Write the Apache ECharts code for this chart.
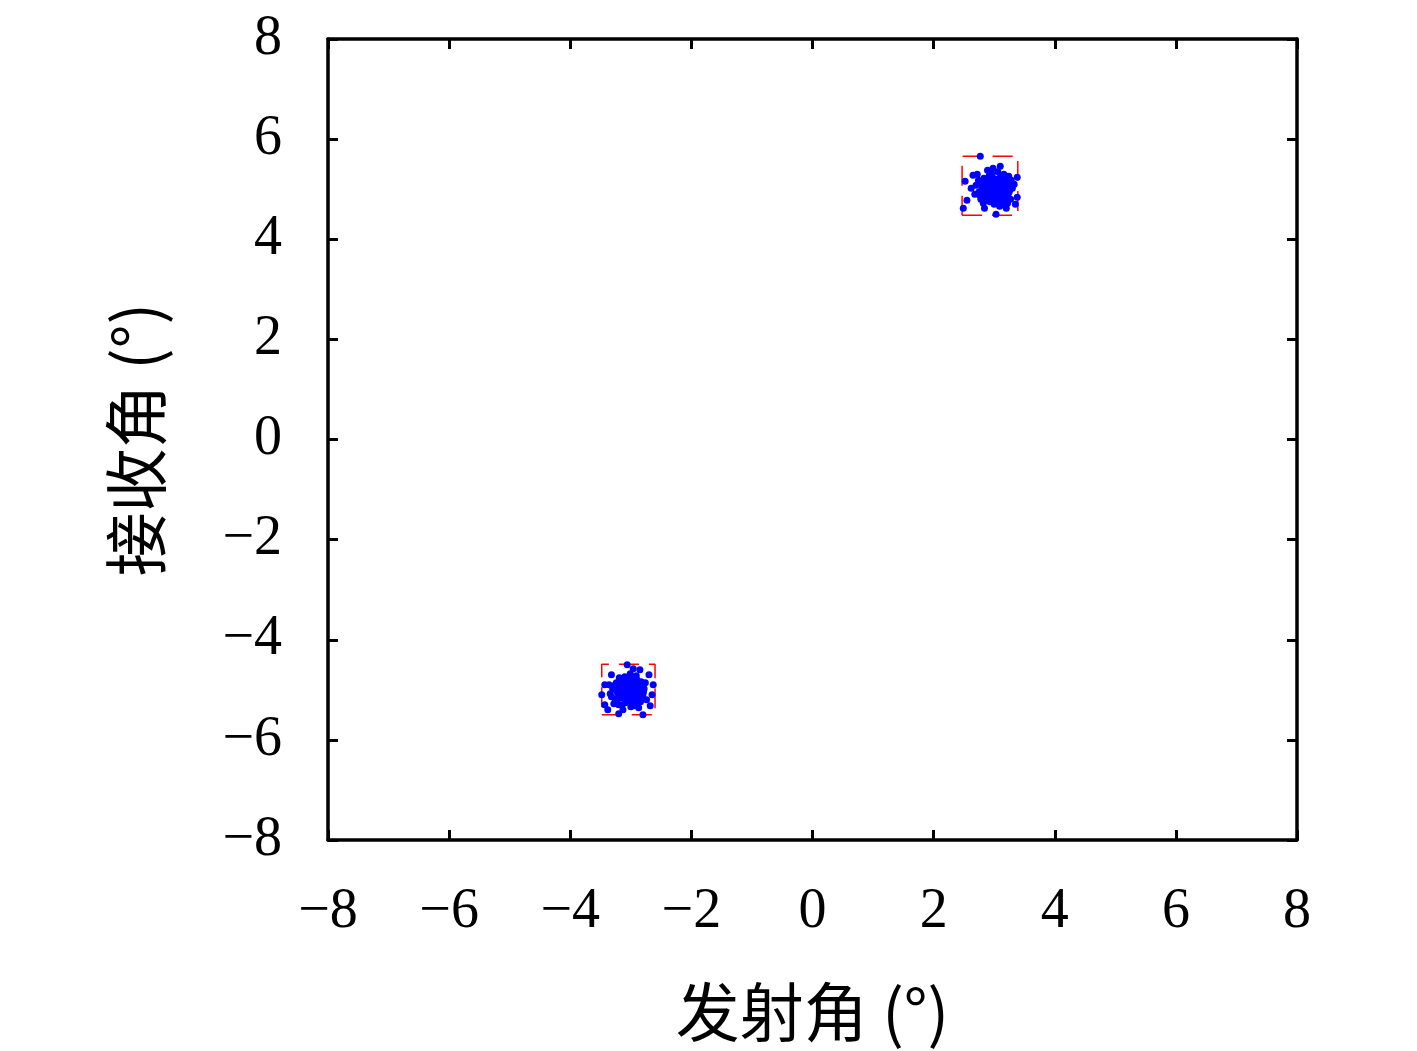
<!DOCTYPE html>
<html>
<head>
<meta charset="utf-8">
<script src="https://cdn.jsdelivr.net/npm/echarts@6/dist/echarts.min.js"></script>
<style>
html, body { margin: 0; padding: 0; background: #fff; }
#chart { width: 1417px; height: 1051px; }
</style>
</head>
<body>
<div id="chart"></div>
<script>
// 估计目标（发射角, 接收角）
var upperCluster = [
  [2.98,5.00],[3.05,5.08],[2.90,4.95],[3.10,4.92],[2.85,5.10],[3.02,5.20],[2.95,4.82],[3.15,5.05],
  [2.80,5.00],[3.08,4.78],[2.92,5.15],[3.20,5.12],[2.88,4.88],[3.00,4.70],[3.12,5.25],[2.75,4.95],
  [3.25,4.95],[2.96,5.30],[3.04,4.90],[2.83,5.22],[3.18,4.85],[2.70,5.08],[3.28,5.18],[2.93,4.75],
  [3.06,5.35],[2.78,4.80],[3.22,4.72],[2.99,5.12],[3.01,4.86],[2.87,5.03],[3.13,4.98],[2.94,5.06],
  [3.07,5.02],[2.91,4.91],[3.03,4.96],[2.97,5.24],[3.16,5.30],[2.82,4.72],[3.30,5.02],[2.68,4.90],
  [3.09,4.66],[2.89,5.38],[3.24,5.26],[2.74,5.18],[3.19,4.78],[2.86,4.84],[3.11,5.14],[2.95,4.98],
  [3.00,5.05],[3.05,4.85],[2.72,5.30],[3.27,4.80],[2.84,4.62],[3.14,4.70],[2.90,5.20],[3.17,5.20],
  [2.93,5.10],[3.04,5.14],[2.87,4.98],[3.09,5.09],[3.14,4.88],[2.81,5.06],[3.21,5.02],[2.97,4.90],
  [3.02,4.80],[2.89,4.78],[3.12,4.80],[2.99,5.18],[3.08,5.22],[2.78,5.12],[3.23,4.90],[2.92,5.28],
  [2.96,4.94],[3.06,4.98],[3.01,5.02],[2.84,4.92],[3.17,4.94],[3.11,5.04],[2.91,5.04],[3.00,4.92],
  [2.76,4.88],[3.26,5.08],[3.04,4.74],[2.94,5.34],[3.18,5.16],[2.85,5.16],[3.13,5.18],[2.80,4.86],
  [2.77,5.66],[2.52,5.16],[2.55,4.78],[2.49,4.62],[3.03,4.50],[3.20,4.62],[3.38,4.84],[3.38,5.24],
  [3.10,5.46],[2.98,5.42],[3.33,5.10],[2.62,5.02],[2.65,5.28],[3.35,4.70]
];
var lowerCluster = [
  [-3.05,-5.04],[-2.98,-4.96],[-3.12,-5.10],[-2.92,-5.12],[-3.18,-4.94],[-3.02,-4.86],[-3.08,-5.22],
  [-2.88,-5.02],[-3.22,-5.06],[-2.95,-5.28],[-3.14,-4.84],[-2.85,-4.92],[-3.26,-5.18],[-3.00,-5.34],
  [-2.90,-4.80],[-3.30,-4.98],[-2.80,-5.10],[-3.10,-4.74],[-2.96,-5.16],[-3.20,-5.30],[-2.84,-5.24],
  [-3.34,-5.08],[-2.78,-4.98],[-3.06,-4.92],[-3.16,-5.02],[-2.93,-5.06],[-3.04,-5.14],[-2.99,-4.88],
  [-3.11,-4.98],[-3.24,-4.86],[-2.87,-5.36],[-3.28,-5.28],[-2.76,-4.86],[-3.01,-4.68],[-3.13,-5.40],
  [-2.82,-5.18],[-3.36,-4.90],[-2.74,-5.20],[-3.19,-4.76],[-2.91,-4.72],[-3.07,-5.04],[-2.97,-5.02],
  [-3.09,-5.26],[-2.89,-5.14],[-3.21,-4.92],[-3.03,-4.98],[-2.94,-4.90],[-3.15,-5.16],
  [-3.08,-4.96],[-2.95,-5.08],[-3.17,-5.08],[-2.86,-5.08],[-3.25,-5.00],[-3.01,-5.20],[-3.12,-4.90],
  [-2.90,-4.96],[-3.04,-4.80],[-2.99,-5.24],[-3.22,-5.20],[-2.83,-4.84],[-3.14,-5.30],[-2.94,-5.32],
  [-3.29,-4.92],[-2.79,-5.04],[-3.06,-5.12],[-3.10,-5.02],[-2.92,-4.84],[-3.18,-4.82],[-2.88,-5.22],
  [-3.02,-5.06],[-3.32,-5.14],[-2.81,-4.94],[-3.09,-4.86],[-2.97,-4.76],
  [-3.06,-4.50],[-2.85,-4.60],[-2.70,-4.70],[-3.43,-4.90],[-3.48,-5.10],[-2.63,-4.90],
  [-3.43,-5.30],[-3.20,-5.48],[-2.80,-5.50],[-2.65,-5.10],[-2.96,-4.58],[-3.32,-4.70],
  [-2.68,-5.32],[-3.38,-5.40]
];
// 红色框: [xmin, xmax, ymin, ymax]
var upperBox = [2.47, 3.39, 4.48, 5.66];
var lowerBox = [-3.48, -2.60, -5.50, -4.49];

function boxPath(b) {
  return [[b[0], b[2]], [b[1], b[2]], [b[1], b[3]], [b[0], b[3]], [b[0], b[2]]];
}
function fmt(v) {
  return v < 0 ? '\u2212' + Math.abs(v) : String(v);
}

var myChart = echarts.init(document.getElementById('chart'));
var labelFont = 'Liberation Serif, DejaVu Serif, serif';
var cjkFont = 'Noto Sans CJK SC, serif';

function baseAxis(extra) {
  var a = {
    type: 'value',
    min: -8,
    max: 8,
    interval: 2,
    splitLine: { show: false },
    axisLine: { show: true, onZero: false, lineStyle: { color: '#000', width: 3.5 } },
    axisTick: { show: true, inside: true, length: 10, lineStyle: { color: '#000', width: 3 } }
  };
  for (var k in extra) a[k] = extra[k];
  return a;
}

var option = {
  backgroundColor: '#fff',
  animation: false,
  grid: { left: 328, top: 39, right: 120, bottom: 211, containLabel: false },
  xAxis: [
    baseAxis({
      position: 'bottom',
      name: '发射角 (°)',
      nameLocation: 'middle',
      nameGap: 140,
      nameTextStyle: { fontSize: 64, fontFamily: cjkFont, color: '#000' },
      axisLabel: { fontSize: 56, fontFamily: labelFont, color: '#000', margin: 44, formatter: fmt }
    }),
    baseAxis({ position: 'top', axisLabel: { show: false } })
  ],
  yAxis: [
    baseAxis({
      position: 'left',
      name: '接收角 (°)',
      nameLocation: 'middle',
      nameGap: 160,
      nameTextStyle: { fontSize: 64, fontFamily: cjkFont, color: '#000' },
      axisLabel: { fontSize: 56, fontFamily: labelFont, color: '#000', margin: 46, formatter: fmt }
    }),
    baseAxis({ position: 'right', axisLabel: { show: false } })
  ],
  series: [
    {
      type: 'line',
      data: boxPath(upperBox),
      symbol: 'none',
      lineStyle: { color: '#ff0000', width: 1.5, type: [20, 10] },
      z: 1
    },
    {
      type: 'line',
      data: boxPath(lowerBox),
      symbol: 'none',
      lineStyle: { color: '#ff0000', width: 1.5, type: [20, 10] },
      z: 1
    },
    {
      type: 'scatter',
      data: upperCluster,
      symbolSize: 7,
      itemStyle: { color: '#0000ff', opacity: 1 },
      z: 2
    },
    {
      type: 'scatter',
      data: lowerCluster,
      symbolSize: 7,
      itemStyle: { color: '#0000ff', opacity: 1 },
      z: 2
    }
  ]
};
myChart.setOption(option);
window.addEventListener('resize', function () {
  myChart.resize();
});
</script>
</body>
</html>
